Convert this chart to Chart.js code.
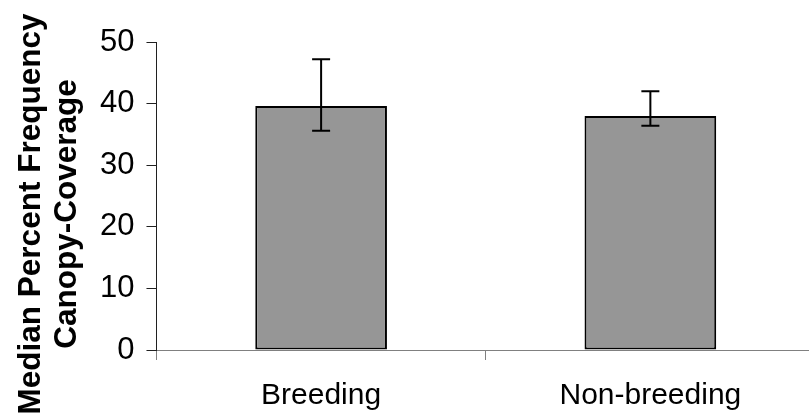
<!DOCTYPE html>
<html>
<head>
<meta charset="utf-8">
<script src="https://cdn.jsdelivr.net/npm/chart.js@4"></script>
<style>
  html, body { margin: 0; padding: 0; background: #ffffff; overflow: hidden; }
  #wrap { width: 809px; height: 417px; overflow: hidden; }
</style>
</head>
<body>
<div id="wrap"><canvas id="c" width="815" height="417"></canvas></div>
<script>
const categories = ['Breeding', 'Non-breeding'];
const medians = [39.6, 38.0];
const errLow = [35.6, 36.4];
const errHigh = [47.2, 42.0];
const yTicks = [0, 10, 20, 30, 40, 50];
const yTitleLines = ['Median Percent Frequency', 'Canopy-Coverage'];

const FONT = '"Liberation Sans", Arial, Helvetica, sans-serif';

const errorBars = {
  id: 'errorBars',
  afterDatasetsDraw(chart) {
    const meta = chart.getDatasetMeta(0);
    const ys = chart.scales.y;
    const ctx = chart.ctx;
    ctx.save();
    ctx.strokeStyle = '#000';
    ctx.lineWidth = 2;
    meta.data.forEach((bar, i) => {
      const x = bar.x;
      const yh = ys.getPixelForValue(errHigh[i]);
      const yl = ys.getPixelForValue(errLow[i]);
      ctx.beginPath();
      ctx.moveTo(x, yh); ctx.lineTo(x, yl);
      ctx.moveTo(x - 9, yh); ctx.lineTo(x + 9, yh);
      ctx.moveTo(x - 9, yl); ctx.lineTo(x + 9, yl);
      ctx.stroke();
    });
    ctx.restore();
  }
};

const yTitle = {
  id: 'yTitle',
  afterDraw(chart) {
    const ctx = chart.ctx;
    ctx.save();
    ctx.fillStyle = '#000';
    ctx.font = 'bold 31.5px ' + FONT;
    ctx.textAlign = 'center';
    ctx.textBaseline = 'alphabetic';
    const baselines = [39.5, 75.5];
    yTitleLines.forEach((t, i) => {
      ctx.save();
      ctx.translate(baselines[i], 214);
      ctx.rotate(-Math.PI / 2);
      ctx.fillText(t, 0, 0);
      ctx.restore();
    });
    ctx.restore();
  }
};

new Chart(document.getElementById('c'), {
  type: 'bar',
  data: {
    labels: categories,
    datasets: [{
      data: medians,
      backgroundColor: '#969696',
      borderColor: '#000000',
      borderWidth: 2,
      borderSkipped: false,
      categoryPercentage: 1.0,
      barPercentage: 0.4
    }]
  },
  options: {
    responsive: false,
    devicePixelRatio: 1,
    animation: false,
    layout: { padding: { left: 88, right: 0, top: 42, bottom: -15 } },
    plugins: { legend: { display: false }, tooltip: { enabled: false } },
    scales: {
      x: {
        offset: true,
        grid: {
          offset: true,
          drawOnChartArea: false,
          drawTicks: true,
          tickLength: 10,
          color: '#808080'
        },
        border: { color: '#808080', width: 1 },
        ticks: {
          color: '#000',
          font: { family: FONT, size: 30 },
          padding: 18,
          maxRotation: 0
        }
      },
      y: {
        min: 0,
        max: 50,
        afterBuildTicks(scale) { scale.ticks = yTicks.map(v => ({ value: v })); },
        grid: {
          drawOnChartArea: false,
          drawTicks: true,
          tickLength: 10,
          color: '#202020'
        },
        border: { color: '#202020', width: 1 },
        ticks: {
          color: '#000',
          font: { family: FONT, size: 31 },
          padding: 12
        }
      }
    }
  },
  plugins: [errorBars, yTitle]
});
</script>
</body>
</html>
